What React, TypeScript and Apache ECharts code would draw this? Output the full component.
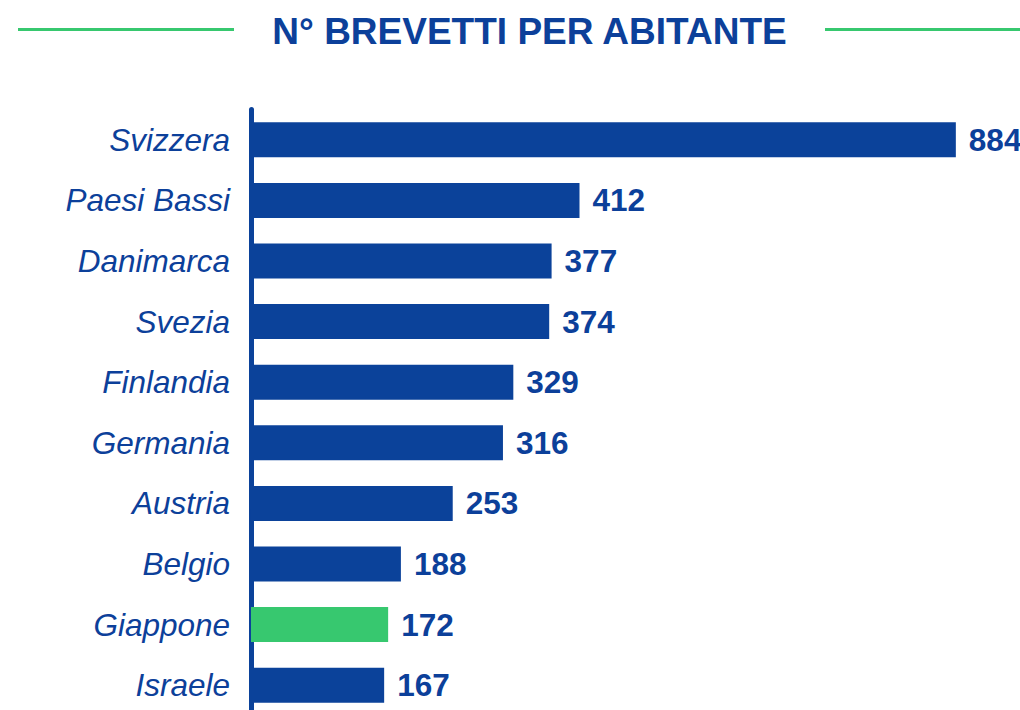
import React, { useEffect, useRef } from "react";
import * as echarts from "echarts";

const categories = [
  "Svizzera",
  "Paesi Bassi",
  "Danimarca",
  "Svezia",
  "Finlandia",
  "Germania",
  "Austria",
  "Belgio",
  "Giappone",
  "Israele",
];
const values = [884, 412, 377, 374, 329, 316, 253, 188, 172, 167];
const highlighted = "Giappone";
const titleText = "N° BREVETTI PER ABITANTE";

const BLUE = "#0B429A";
const TEXT_BLUE = "#0C409A";
const GREEN = "#37C86F";
const FONT = "'Liberation Sans', Arial, Helvetica, sans-serif";

export default function App() {
  const ref = useRef<HTMLDivElement>(null);

  useEffect(() => {
    document.body.style.margin = "0";
    document.body.style.overflow = "hidden";
    if (!ref.current) return;
    const chart = echarts.init(ref.current, null, { renderer: "svg" });
    const option = {
      animation: false,
      backgroundColor: "#ffffff",
      graphic: [
        {
          type: "line",
          shape: { x1: 18, y1: 29.5, x2: 234, y2: 29.5 },
          style: { stroke: GREEN, lineWidth: 3 },
        },
        {
          type: "line",
          shape: { x1: 825, y1: 29.5, x2: 1020, y2: 29.5 },
          style: { stroke: GREEN, lineWidth: 3 },
        },
        {
          type: "text",
          x: 529.5,
          y: 31,
          style: {
            text: titleText,
            fill: TEXT_BLUE,
            font: `bold 37px ${FONT}`,
            textAlign: "center",
            textVerticalAlign: "middle",
          },
        },
      ],
      grid: {
        left: 251,
        top: 109.5,
        width: 717.6,
        height: 606,
        containLabel: false,
        outerBoundsMode: "none",
      },
      xAxis: {
        type: "value",
        min: 0,
        max: 900,
        show: false,
      },
      yAxis: {
        type: "category",
        data: categories,
        inverse: true,
        axisLine: { show: true, lineStyle: { color: BLUE, width: 5 } },
        axisTick: { show: false },
        axisLabel: {
          margin: 21,
          color: TEXT_BLUE,
          fontSize: 31.5,
          fontStyle: "italic",
          fontFamily: FONT,
        },
        splitLine: { show: false },
      },
      series: [
        {
          type: "bar",
          barWidth: 35,
          data: values.map((v, i) => ({
            value: v,
            itemStyle: { color: categories[i] === highlighted ? GREEN : BLUE },
          })),
          label: {
            show: true,
            position: "right",
            distance: 13,
            color: TEXT_BLUE,
            fontSize: 31.5,
            fontWeight: "bold",
            fontFamily: FONT,
          },
          z: 1,
        },
      ],
    };
    chart.setOption(option as any);
    return () => chart.dispose();
  }, []);

  return <div ref={ref} style={{ width: 1020, height: 710 }} />;
}
